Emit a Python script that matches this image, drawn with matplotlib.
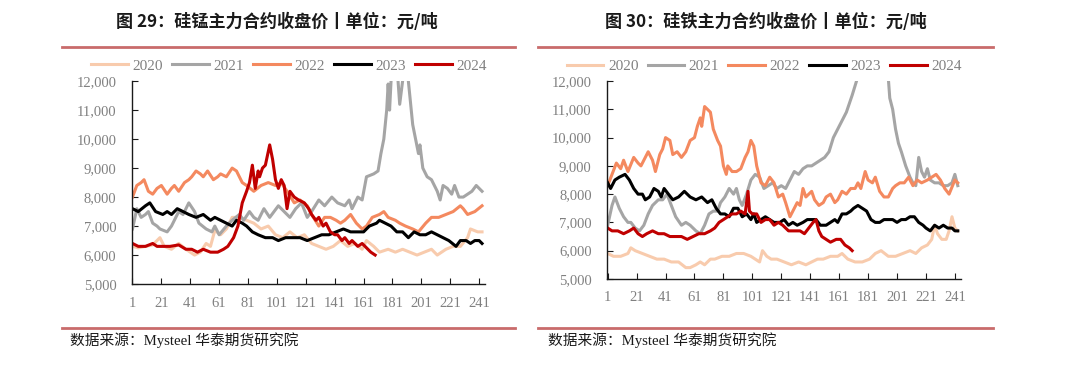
import matplotlib
matplotlib.use("Agg")
import matplotlib.pyplot as plt
from matplotlib.lines import Line2D
from matplotlib.ticker import FuncFormatter

# 硅锰主力合约收盘价 (交易日序号, 元/吨)
simn_2020 = [(1, 6300), (5, 6250), (10, 6300), (15, 6350), (20, 6600), (23, 6300), (28, 6200),
             (33, 6400), (38, 6200), (44, 6000), (48, 6100), (52, 6400), (55, 6300), (58, 6850),
             (62, 6700), (66, 6900), (70, 7300), (75, 7300), (80, 7200), (85, 7100), (90, 6900),
             (95, 7000), (100, 6700), (105, 6600), (110, 6800), (115, 6600), (120, 6700), (125, 6400),
             (130, 6300), (135, 6200), (140, 6300), (145, 6500), (150, 6300), (155, 6400), (160, 6200),
             (163, 6500), (168, 6300), (172, 6100), (178, 6200), (183, 6100), (188, 6200), (193, 6100),
             (198, 6000), (203, 6100), (208, 6200), (212, 6000), (218, 6200), (223, 6300), (228, 6300),
             (233, 6600), (235, 6900), (240, 6800), (243, 6800)]
simn_2021 = [(1, 6900), (4, 7600), (7, 7300), (10, 7400), (12, 7500), (15, 7100), (18, 7000),
             (20, 6900), (25, 6800), (28, 7000), (31, 7300), (33, 7500), (36, 7400), (38, 7600),
             (40, 7800), (44, 7500), (47, 7100), (52, 6900), (56, 6800), (58, 7000), (61, 6700),
             (66, 7000), (70, 7200), (75, 7400), (78, 7200), (82, 7500), (85, 7300), (88, 7200),
             (92, 7600), (96, 7300), (102, 7700), (106, 7500), (110, 7300), (114, 7600), (118, 7800),
             (122, 7300), (125, 7500), (130, 7900), (134, 7700), (139, 8000), (143, 7800), (148, 7700),
             (151, 7900), (153, 7600), (157, 8000), (160, 7900), (163, 8700), (168, 8800), (171, 8900),
             (173, 9500), (175, 10000), (177, 11000), (178, 11900), (179, 11000), (180, 12000),
             (182, 12600), (184, 12600), (186, 11200), (188, 12000), (190, 12600), (192, 12000),
             (193, 11500), (195, 10500), (197, 10000), (199, 9500), (200, 9800), (202, 9000),
             (205, 8700), (208, 8600), (212, 8200), (214, 7900), (216, 8400), (219, 8300), (222, 8100),
             (224, 8400), (227, 8000), (230, 8000), (233, 8100), (236, 8200), (239, 8400), (241, 8300),
             (243, 8200)]
simn_2022 = [(1, 8000), (4, 8400), (7, 8500), (9, 8600), (12, 8200), (15, 8100), (18, 8300),
             (21, 8400), (25, 8100), (28, 8300), (30, 8400), (33, 8200), (37, 8500), (40, 8600),
             (42, 8700), (45, 8900), (48, 8800), (50, 8700), (53, 8900), (57, 8600), (60, 8700),
             (62, 8800), (66, 8700), (70, 9000), (73, 8900), (77, 8500), (80, 8400), (85, 8200),
             (90, 8400), (95, 8500), (100, 8400), (104, 8500), (108, 8200), (113, 7800), (117, 7900),
             (122, 7700), (125, 7400), (130, 7000), (134, 7300), (138, 7300), (142, 7200), (145, 7100),
             (148, 7200), (152, 7400), (156, 7100), (160, 6900), (163, 7000), (167, 7300), (172, 7400),
             (175, 7500), (178, 7300), (183, 7200), (186, 7100), (190, 7000), (195, 6900), (199, 6800),
             (204, 7100), (208, 7300), (213, 7300), (218, 7400), (223, 7500), (228, 7700), (230, 7600),
             (233, 7400), (238, 7500), (243, 7700)]
simn_2023 = [(1, 7600), (5, 7500), (10, 7700), (13, 7800), (17, 7500), (22, 7400), (25, 7500),
             (28, 7400), (32, 7600), (36, 7500), (40, 7400), (45, 7300), (50, 7400), (55, 7200),
             (58, 7300), (62, 7200), (66, 7100), (70, 7000), (73, 7200), (77, 7100), (80, 7000),
             (84, 6800), (88, 6700), (93, 6600), (98, 6600), (102, 6500), (107, 6600), (112, 6600),
             (117, 6600), (122, 6500), (127, 6600), (132, 6700), (137, 6700), (142, 6800), (147, 6900),
             (152, 6800), (157, 6800), (161, 6800), (165, 7000), (170, 7100), (172, 7200), (176, 7100),
             (180, 7000), (184, 6800), (188, 6800), (192, 6600), (196, 6800), (200, 6700), (204, 6700),
             (208, 6800), (212, 6700), (216, 6600), (220, 6500), (225, 6300), (228, 6500), (232, 6500),
             (235, 6400), (238, 6500), (241, 6500), (243, 6400)]
simn_2024 = [(1, 6400), (5, 6300), (10, 6300), (15, 6400), (18, 6300), (22, 6300), (27, 6300),
             (33, 6350), (38, 6200), (42, 6200), (46, 6100), (50, 6200), (55, 6100), (60, 6100),
             (64, 6200), (67, 6300), (71, 6600), (74, 7000), (77, 7800), (80, 8200), (82, 8500),
             (84, 9100), (86, 8300), (88, 8900), (89, 8700), (91, 9000), (93, 9100), (96, 9800),
             (98, 9300), (100, 8600), (102, 8300), (104, 8600), (106, 8400), (108, 7600), (110, 8200),
             (113, 8000), (116, 7900), (120, 7800), (123, 7600), (125, 7400), (128, 7200), (130, 7300),
             (133, 7000), (135, 7100), (138, 6800), (141, 6700), (143, 6700), (146, 6500), (148, 6600),
             (151, 6400), (153, 6500), (157, 6300), (160, 6400), (164, 6200), (166, 6100), (169, 6000)]

# 硅铁主力合约收盘价
fesi_2020 = [(1, 5900), (5, 5800), (10, 5800), (15, 5900), (17, 6100), (20, 6000), (25, 5900),
             (30, 5800), (35, 5700), (40, 5700), (45, 5600), (50, 5600), (55, 5400), (58, 5400),
             (62, 5500), (65, 5600), (68, 5500), (72, 5700), (75, 5700), (80, 5800), (85, 5800),
             (90, 5900), (95, 5900), (100, 5800), (103, 5700), (106, 5600), (108, 6000), (111, 5800),
             (114, 5700), (118, 5700), (123, 5600), (128, 5500), (133, 5600), (138, 5500), (142, 5600),
             (146, 5700), (150, 5700), (155, 5800), (160, 5800), (163, 5900), (167, 5700), (172, 5600),
             (177, 5600), (182, 5700), (186, 5900), (190, 6000), (195, 5800), (200, 5800), (205, 5900),
             (210, 6000), (214, 5900), (218, 6100), (222, 6200), (225, 6400), (227, 6900), (229, 6600),
             (232, 6400), (235, 6400), (237, 6700), (239, 7200), (241, 6800), (243, 6700)]
fesi_2021 = [(1, 6900), (4, 7600), (6, 7900), (9, 7500), (12, 7200), (15, 7000), (17, 7000),
             (20, 6800), (23, 6700), (26, 6900), (29, 7300), (32, 7600), (36, 7800), (39, 7800),
             (42, 8000), (45, 7600), (48, 7200), (52, 6900), (55, 7000), (58, 6900), (62, 6700),
             (65, 6600), (68, 6900), (71, 7300), (74, 7400), (77, 7400), (79, 7700), (82, 7900),
             (85, 8200), (88, 8000), (90, 8200), (92, 7800), (94, 7600), (97, 8000), (100, 8500),
             (103, 8700), (106, 8600), (109, 8200), (112, 8300), (115, 8400), (118, 8200), (121, 8300),
             (124, 8200), (127, 8500), (130, 8800), (133, 8700), (136, 8900), (139, 9000), (142, 9000),
             (145, 9100), (148, 9200), (151, 9300), (154, 9500), (157, 10000), (160, 10300),
             (163, 10600), (166, 10900), (170, 11500), (173, 12000), (176, 12800), (185, 13000),
             (194, 12800), (196, 11400), (198, 11000), (200, 10300), (202, 9800), (204, 9500),
             (207, 9000), (210, 8600), (212, 8400), (214, 8300), (216, 9300), (218, 8800), (220, 8600),
             (222, 8900), (224, 8500), (227, 8400), (230, 8400), (233, 8300), (236, 8300), (239, 8400),
             (241, 8700), (243, 8300)]
fesi_2022 = [(1, 8300), (4, 8700), (7, 9100), (10, 8900), (12, 9200), (15, 8800), (19, 9300),
             (22, 9100), (24, 9000), (29, 9500), (32, 9200), (34, 8800), (37, 9400), (39, 9600),
             (41, 10000), (44, 9900), (46, 9400), (49, 9500), (52, 9300), (55, 9500), (58, 9900),
             (61, 10000), (63, 10400), (65, 10700), (66, 10400), (68, 11100), (70, 11000), (72, 10900),
             (74, 10300), (77, 9900), (79, 9700), (81, 9000), (83, 8700), (84, 9000), (87, 8800),
             (90, 8800), (93, 8900), (96, 9300), (98, 9500), (100, 9900), (102, 9700), (104, 9000),
             (107, 8400), (110, 8300), (113, 8600), (116, 8400), (119, 7900), (122, 8000), (124, 7700),
             (127, 7200), (130, 7500), (132, 7700), (134, 7600), (136, 8200), (138, 7900), (140, 8000),
             (142, 8100), (144, 7800), (147, 7600), (150, 7700), (152, 7900), (155, 8000), (158, 7700),
             (160, 7800), (163, 8100), (166, 8000), (169, 8200), (172, 8200), (174, 8400), (176, 8200),
             (179, 8800), (181, 8500), (184, 8400), (186, 8600), (189, 8100), (192, 7900), (195, 7900),
             (198, 8200), (200, 8300), (203, 8400), (206, 8400), (209, 8600), (212, 8300), (215, 8500),
             (218, 8400), (222, 8500), (225, 8600), (228, 8700), (231, 8500), (234, 8200), (237, 8000),
             (241, 8500), (243, 8400)]
fesi_2023 = [(1, 8400), (3, 8200), (6, 8500), (9, 8600), (13, 8700), (16, 8500), (19, 8200),
             (22, 8000), (25, 8000), (27, 7800), (30, 7900), (33, 8200), (36, 8100), (38, 7900),
             (40, 8200), (43, 8000), (46, 7800), (50, 7900), (54, 8100), (58, 7900), (62, 7800),
             (66, 7900), (70, 7700), (73, 7800), (76, 7500), (79, 7300), (82, 7300), (85, 7200),
             (88, 7500), (91, 7500), (94, 7200), (97, 7300), (100, 7100), (102, 7300), (104, 7000),
             (107, 7100), (110, 7200), (113, 7100), (116, 7000), (120, 7000), (123, 7100), (126, 6900),
             (129, 7000), (132, 6900), (136, 7000), (139, 7100), (142, 7100), (145, 7100), (148, 6900),
             (152, 6900), (155, 7000), (158, 7100), (160, 7000), (163, 7300), (166, 7300), (169, 7400),
             (171, 7500), (174, 7600), (177, 7500), (180, 7400), (183, 7100), (186, 7000), (189, 7000),
             (192, 7100), (195, 7100), (198, 7100), (201, 7000), (204, 7100), (207, 7100), (210, 7200),
             (213, 7200), (216, 7000), (219, 6900), (221, 6800), (224, 6700), (227, 6900), (230, 6800),
             (233, 6900), (236, 6800), (239, 6800), (241, 6700), (243, 6700)]
fesi_2024 = [(1, 6800), (4, 6700), (8, 6700), (12, 6600), (16, 6700), (19, 6800), (22, 6600),
             (25, 6500), (28, 6600), (32, 6700), (36, 6600), (40, 6600), (44, 6500), (48, 6500),
             (52, 6500), (56, 6400), (60, 6500), (64, 6600), (68, 6600), (72, 6700), (75, 6800),
             (78, 7000), (81, 7100), (84, 7200), (87, 7300), (90, 7300), (93, 7400), (96, 7300),
             (98, 8100), (99, 7400), (101, 7300), (104, 7300), (107, 7000), (110, 7100), (113, 7100),
             (116, 6900), (119, 7000), (122, 6900), (126, 6700), (130, 6700), (134, 6700), (137, 6600),
             (140, 6800), (143, 7000), (145, 7100), (147, 6700), (149, 6500), (152, 6400), (155, 6300),
             (159, 6400), (162, 6400), (165, 6200), (168, 6100), (170, 6000)]

years = ["2020", "2021", "2022", "2023", "2024"]
colors = ["#F8CBAD", "#A5A5A5", "#F4895F", "#000000", "#C00000"]
xticks = list(range(1, 242, 20))

titles = ["图 29：硅锰主力合约收盘价丨单位：元/吨", "图 30：硅铁主力合约收盘价丨单位：元/吨"]
source = "数据来源：Mysteel 华泰期货研究院"

serif = ["Liberation Serif", "Noto Sans CJK SC"]
gray = "#808080"
rule = "#C96B6B"

fig = plt.figure(figsize=(10.8, 3.67), dpi=100)


def draw(ax, series):
    for data, c, lab in zip(series, colors, years):
        x, y = zip(*data)
        ax.plot(x, y, color=c, lw=2.2, label=lab, solid_joinstyle="round")
    ax.set_xlim(0.5, 245)
    ax.set_ylim(5000, 12000)
    ax.set_yticks(range(5000, 12001, 1000))
    ax.set_xticks(xticks)
    ax.yaxis.set_major_formatter(FuncFormatter(lambda v, p: f"{int(v):,}"))
    for s in ["top", "right"]:
        ax.spines[s].set_visible(False)
    for s in ["left", "bottom"]:
        ax.spines[s].set_color("#1a1a1a")
        ax.spines[s].set_linewidth(1.0)
    ax.tick_params(direction="in", length=4, color="#1a1a1a", labelcolor=gray,
                   labelsize=10.5)
    ax.tick_params(axis="y", pad=11)
    ax.tick_params(axis="x", pad=9)
    for t in ax.get_xticklabels() + ax.get_yticklabels():
        t.set_family(serif)
    leg = ax.legend(loc="center", bbox_to_anchor=(0.445, 1.075), ncol=5, frameon=False,
                    handlelength=2.4, handletextpad=0.3, columnspacing=0.6,
                    prop={"family": serif, "size": 11})
    for t in leg.get_texts():
        t.set_color(gray)


ax1 = fig.add_axes([0.122, 0.226, 0.327, 0.553])
draw(ax1, [simn_2020, simn_2021, simn_2022, simn_2023, simn_2024])
ax2 = fig.add_axes([0.562, 0.240, 0.3275, 0.539])
draw(ax2, [fesi_2020, fesi_2021, fesi_2022, fesi_2023, fesi_2024])

# 标题、分隔线和数据来源
for cx, (x0, x1), sx, title in [(0.256, (0.057, 0.477), 0.065, titles[0]),
                                (0.709, (0.498, 0.919), 0.507, titles[1])]:
    fig.text(cx, 0.94, title, ha="center", va="center", fontsize=12.3, fontweight="bold",
             family=["Noto Sans CJK SC", "DejaVu Sans"], color="#1a1a1a")
    fig.add_artist(Line2D([x0, x1], [0.872, 0.872], color=rule, lw=2.0))
    fig.add_artist(Line2D([x0, x1], [0.106, 0.106], color=rule, lw=2.0))
    fig.text(sx, 0.073, source, ha="left", va="center", fontsize=10.6, family=serif,
             color="#1a1a1a")

fig.savefig("out.png", dpi=100)
